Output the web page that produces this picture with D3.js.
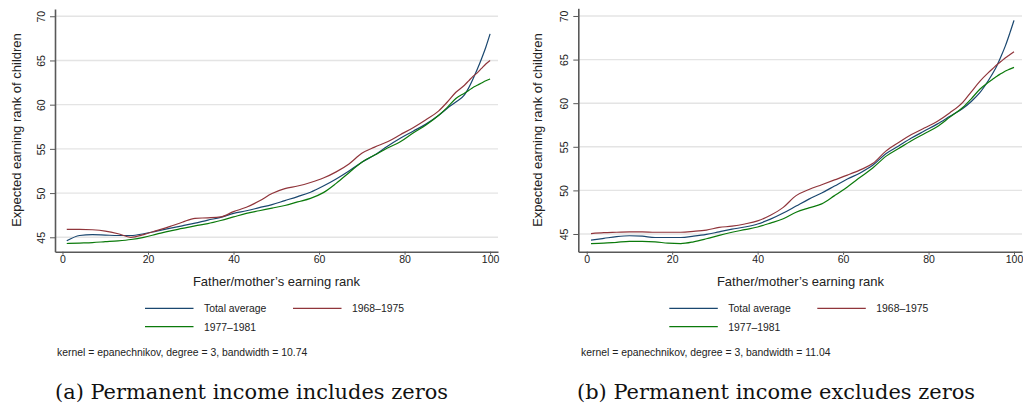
<!DOCTYPE html>
<html>
<head>
<meta charset="utf-8">
<script src="https://cdn.jsdelivr.net/npm/d3@7"></script>
<style>
  html, body { margin: 0; padding: 0; background: #fff; }
  svg { display: block; }
  .tick text { font-family: "Liberation Sans", Arial, sans-serif; fill: #222; }
</style>
</head>
<body>
<svg id="chart" width="1023" height="416"></svg>
<script>
// Parent earning rank at which the local polynomial fits are evaluated
const rankA = [1,4,7,10,13,16,19,22,25,28,31,34,37,40,43,46,49,52,55,58,61,64,67,70,73,76,79,82,85,88,90,92,94,95,96,97,98,99,100];
const rankB = [1,4,7,10,13,16,19,22,25,28,31,34,37,40,43,46,49,52,55,58,61,64,67,70,73,76,79,82,85,88,90,92,94,95,96,97,98,99,100];

// (a) Permanent income includes zeros
const totalA = [44.6,45.2,45.3,45.25,45.2,45.2,45.4,45.7,46.0,46.3,46.6,46.95,47.25,47.7,48.0,48.35,48.7,49.15,49.6,50.1,50.8,51.6,52.5,53.5,54.3,55.3,56.2,57.0,57.8,58.8,59.6,60.3,61.1,61.9,62.9,64.0,65.2,66.5,68.0];
const cohort6875A = [45.9,45.9,45.85,45.7,45.4,45.0,45.3,45.75,46.2,46.7,47.15,47.2,47.3,47.9,48.4,49.1,49.95,50.5,50.8,51.2,51.7,52.4,53.3,54.5,55.2,55.8,56.6,57.4,58.3,59.3,60.3,61.4,62.2,62.7,63.2,63.6,64.1,64.6,65.0];
const cohort7781A = [44.3,44.35,44.4,44.5,44.6,44.75,45.0,45.35,45.7,46.0,46.3,46.55,46.9,47.3,47.7,48.0,48.3,48.6,49.0,49.4,50.05,51.1,52.3,53.5,54.3,55.1,55.8,56.8,57.7,58.8,59.7,60.7,61.3,61.6,61.95,62.2,62.45,62.7,62.9];

// (b) Permanent income excludes zeros
const totalB = [44.3,44.5,44.7,44.8,44.75,44.6,44.6,44.6,44.75,44.95,45.25,45.55,45.8,46.15,46.7,47.4,48.2,49.0,49.7,50.5,51.3,52.0,52.9,54.2,55.1,56.0,56.8,57.6,58.5,59.4,60.2,61.2,62.6,63.4,64.3,65.4,66.6,68.0,69.5];
const cohort6875B = [45.05,45.15,45.2,45.25,45.25,45.2,45.2,45.2,45.3,45.45,45.75,45.9,46.15,46.5,47.15,48.05,49.4,50.1,50.65,51.2,51.75,52.35,53.1,54.5,55.5,56.4,57.15,57.9,58.9,60.1,61.3,62.5,63.5,63.95,64.4,64.8,65.2,65.55,65.9];
const cohort7781B = [43.9,43.95,44.05,44.15,44.15,44.1,43.95,43.9,44.1,44.45,44.85,45.2,45.5,45.8,46.25,46.75,47.5,48.0,48.45,49.4,50.4,51.5,52.6,53.9,54.8,55.7,56.5,57.3,58.4,59.5,60.5,61.6,62.4,62.75,63.1,63.4,63.7,63.9,64.1];

const seriesNames = ["Total average", "1968\u20131975", "1977\u20131981"];
const seriesColors = ["#1a476f", "#90353b", "#0b7a0b"];
const xTicks = [0, 20, 40, 60, 80, 100];
const yTicks = [45, 50, 55, 60, 65, 70];
const xTitle = "Father/mother\u2019s earning rank";
const yTitle = "Expected earning rank of children";
const notes = ["kernel = epanechnikov, degree = 3, bandwidth = 10.74", "kernel = epanechnikov, degree = 3, bandwidth = 11.04"];
const captions = ["(a) Permanent income includes zeros", "(b) Permanent income excludes zeros"];

const svg = d3.select("#chart");
const sans = "'Liberation Sans', Arial, sans-serif";

const panels = [
  { rank: rankA, series: [totalA, cohort6875A, cohort7781A],
    xDom: [-1.75, 101.85], xRange: [55, 498], yDom: [43.37, 70.82], yRange: [251.7, 9],
    yTitleX: 21, xTitleX: 276.5, legendX: 145, noteX: 57, captionX: 55, captionW: 393, note: notes[0], caption: captions[0] },
  { rank: rankB, series: [totalB, cohort6875B, cohort7781B],
    xDom: [-1.97, 101.87], xRange: [578.3, 1022], yDom: [42.97, 70.88], yRange: [251.7, 8.3],
    yTitleX: 542, xTitleX: 800.5, legendX: 669.3, noteX: 581, captionX: 577, captionW: 398, note: notes[1], caption: captions[1] }
];

panels.forEach(p => {
  const x = d3.scaleLinear().domain(p.xDom).range(p.xRange);
  const y = d3.scaleLinear().domain(p.yDom).range(p.yRange);
  const g = svg.append("g");

  // horizontal gridlines
  g.selectAll("line.grid").data(yTicks).join("line")
    .attr("class", "grid")
    .attr("x1", p.xRange[0]).attr("x2", p.xRange[1])
    .attr("y1", d => y(d)).attr("y2", d => y(d))
    .attr("stroke", "#e4e4e4").attr("stroke-width", 1.4);

  // fitted curves
  const line = d3.line()
    .x((d, i) => x(p.rank[i]))
    .y(d => y(d))
    .curve(d3.curveMonotoneX);
  p.series.forEach((vals, k) => {
    g.append("path").datum(vals)
      .attr("d", line)
      .attr("fill", "none")
      .attr("stroke", seriesColors[k])
      .attr("stroke-width", 1.2);
  });

  // y axis
  const yAxis = g.append("g")
    .attr("transform", `translate(${p.xRange[0]},0)`)
    .call(d3.axisLeft(y).tickValues(yTicks).tickSize(5).tickSizeOuter(0));
  yAxis.select(".domain").attr("stroke", "#595959").attr("stroke-width", 1.6);
  yAxis.selectAll(".tick line").attr("stroke", "#595959");
  yAxis.selectAll(".tick text")
    .attr("transform", "rotate(-90)")
    .attr("x", 0).attr("y", -10).attr("dy", 0)
    .attr("text-anchor", "middle")
    .style("font-size", "10.5px");

  // x axis
  const xAxis = g.append("g")
    .attr("transform", `translate(0,${p.yRange[0]})`)
    .call(d3.axisBottom(x).tickValues(xTicks).tickSize(3).tickSizeOuter(0));
  xAxis.select(".domain").attr("stroke", "#595959").attr("stroke-width", 1.6);
  xAxis.selectAll(".tick line").attr("stroke", "#595959");
  xAxis.selectAll(".tick text")
    .attr("y", 11).attr("dy", 0)
    .style("font-size", "10.5px");

  // axis titles
  g.append("text")
    .attr("transform", `translate(${p.yTitleX},130) rotate(-90)`)
    .attr("text-anchor", "middle")
    .style("font-family", sans).style("font-size", "13px").attr("fill", "#222")
    .text(yTitle);
  g.append("text")
    .attr("x", p.xTitleX).attr("y", 286)
    .attr("text-anchor", "middle")
    .style("font-family", sans).style("font-size", "13px").attr("fill", "#222")
    .text(xTitle);

  // legend: two columns, wrapping to a second row
  const legendPos = [[0, 308.3], [148, 308.3], [0, 326.7]];
  seriesNames.forEach((name, k) => {
    const [dx, ly] = legendPos[k];
    g.append("line")
      .attr("x1", p.legendX + dx).attr("x2", p.legendX + dx + 48.5)
      .attr("y1", ly).attr("y2", ly)
      .attr("stroke", seriesColors[k]).attr("stroke-width", 1.2);
    g.append("text")
      .attr("x", p.legendX + dx + 59).attr("y", ly + 3.8)
      .style("font-family", sans).style("font-size", "10.4px").attr("fill", "#222")
      .text(name);
  });

  // smoothing note
  g.append("text")
    .attr("x", p.noteX).attr("y", 355.5)
    .style("font-family", sans).style("font-size", "10.4px").attr("fill", "#222")
    .text(p.note);

  // sub-figure caption
  g.append("text")
    .attr("x", p.captionX).attr("y", 398.5)
    .attr("textLength", p.captionW).attr("lengthAdjust", "spacingAndGlyphs")
    .style("font-family", "'DejaVu Serif', 'Liberation Serif', serif").style("font-size", "20px").attr("fill", "#111")
    .text(p.caption);
});
</script>
</body>
</html>
